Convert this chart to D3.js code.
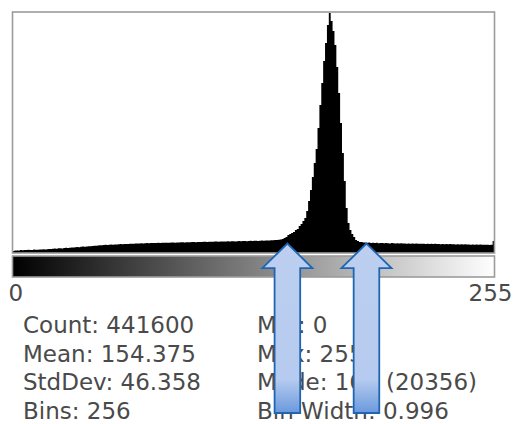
<!DOCTYPE html>
<html>
<head>
<meta charset="utf-8">
<script src="https://cdn.jsdelivr.net/npm/d3@7"></script>
<style>
  html, body { margin: 0; padding: 0; background: #fff; }
  text { font-family: "DejaVu Sans", sans-serif; fill: #4a4a4a; }
</style>
</head>
<body>
<div id="histogram"></div>
<script>
// pixel counts per grey level 0..255
const counts = [
  170, 205, 220, 215, 250, 230, 260, 245, 270, 255, 265, 290, 275, 280, 300, 295,
  310, 300, 320, 335, 330, 350, 380, 365, 395, 410, 390, 420, 440, 425, 455, 470,
  460, 480, 500, 490, 520, 545, 530, 560, 580, 565, 600, 620, 610, 640, 660, 650,
  670, 690, 680, 700, 715, 705, 730, 720, 740, 755, 745, 760, 770, 765, 780, 790,
  785, 800, 810, 805, 820, 815, 830, 840, 825, 845, 850, 840, 855, 865, 850, 870,
  860, 875, 880, 870, 885, 895, 880, 900, 890, 905, 910, 895, 915, 920, 905, 925,
  930, 915, 935, 940, 925, 945, 950, 935, 955, 960, 945, 965, 970, 955, 975, 980,
  965, 985, 990, 975, 995, 1000, 985, 1005, 1010, 995, 1015, 1020, 1005, 1025, 1030, 1015,
  1035, 1040, 1025, 1045, 1050, 1040, 1060, 1070, 1055, 1080, 1090, 1100, 1110, 1120, 1150, 1180,
  1270, 1360, 1530, 1610, 1700, 1780, 1950, 2040, 2290, 2460, 2710, 2970, 3560, 4410, 5340, 6440,
  7630, 8820, 10600, 12550, 14420, 16280, 17810, 19340, 20356, 19670, 18830, 17640, 15770, 13570, 11020, 8480,
  6110, 3820, 2540, 1950, 1610, 1360, 1100, 1020, 935, 930, 890, 900, 860, 885, 850, 860,
  845, 870, 835, 855, 840, 825, 850, 830, 815, 840, 820, 810, 830, 805, 820, 800,
  810, 795, 815, 790, 800, 785, 805, 780, 790, 775, 795, 770, 785, 765, 780, 760,
  775, 755, 770, 750, 765, 745, 760, 740, 755, 735, 750, 730, 745, 725, 740, 720,
  735, 715, 730, 710, 725, 705, 720, 700, 715, 695, 710, 690, 700, 685, 695, 1020
];

const rangeLabels = ['0', '255'];
const statsLeft = ['Count: 441600', 'Mean: 154.375', 'StdDev: 46.358', 'Bins: 256'];
const statsRight = ['Min: 0', 'Max: 255', 'Mode: 168 (20356)', 'Bin Width: 0.996'];

// grey levels the two arrows point at
const arrowBins = [146, 188];
const arrowCount = 800;

const width = 516;
const height = 424;
const plot = { left: 12.5, right: 494.5, top: 13, bottom: 253 };
const lut = { top: 256, bottom: 277 };

const svg = d3.select('#histogram').append('svg')
  .attr('width', width)
  .attr('height', height);

const defs = svg.append('defs');

const lutGrad = defs.append('linearGradient').attr('id', 'lut');
lutGrad.append('stop').attr('offset', '0%').attr('stop-color', '#000');
lutGrad.append('stop').attr('offset', '100%').attr('stop-color', '#fff');

const arrowGrad = defs.append('linearGradient')
  .attr('id', 'arrowFill')
  .attr('x1', 0).attr('y1', 0).attr('x2', 0).attr('y2', 1);
arrowGrad.append('stop').attr('offset', '0%').attr('stop-color', '#bccff0');
arrowGrad.append('stop').attr('offset', '80%').attr('stop-color', '#b6cbef');
arrowGrad.append('stop').attr('offset', '100%').attr('stop-color', '#6a99dd');

const x = d3.scaleLinear()
  .domain([0, counts.length])
  .range([plot.left, plot.right]);

const y = d3.scaleLinear()
  .domain([0, d3.max(counts)])
  .range([plot.bottom, plot.top]);

// histogram as one stepped area, so neighbouring bins leave no seams
const steps = counts.map((c, i) => [i, c]).concat([[counts.length, counts[counts.length - 1]]]);

const area = d3.area()
  .curve(d3.curveStepAfter)
  .x(d => x(d[0]))
  .y0(plot.bottom)
  .y1(d => y(d[1]));

svg.append('path')
  .datum(steps)
  .attr('d', area)
  .style('fill', '#000');

// frame round the histogram
svg.append('rect')
  .attr('x', plot.left)
  .attr('y', plot.top - 1)
  .attr('width', plot.right - plot.left)
  .attr('height', plot.bottom - plot.top + 1)
  .style('fill', 'none')
  .style('stroke', '#9c9c9c')
  .style('stroke-width', 1.6);

// LUT bar
svg.append('rect')
  .attr('x', plot.left)
  .attr('y', lut.top)
  .attr('width', plot.right - plot.left)
  .attr('height', lut.bottom - lut.top)
  .style('fill', 'url(#lut)')
  .style('stroke', '#9c9c9c')
  .style('stroke-width', 1.6);

// range labels
svg.append('text')
  .attr('x', x(0) - 4)
  .attr('y', 301)
  .style('font-size', '23px')
  .text(rangeLabels[0]);

svg.append('text')
  .attr('x', x(counts.length) + 18)
  .attr('y', 301)
  .style('text-anchor', 'end')
  .style('font-size', '23px')
  .text(rangeLabels[1]);

// statistics
const rowY = i => 333 + i * 28.7;

svg.append('g')
  .selectAll('text')
  .data(statsLeft)
  .enter()
  .append('text')
  .attr('x', 23)
  .attr('y', (d, i) => rowY(i))
  .style('font-size', '23px')
  .text(d => d);

svg.append('g')
  .selectAll('text')
  .data(statsRight)
  .enter()
  .append('text')
  .attr('x', 257)
  .attr('y', (d, i) => rowY(i))
  .style('font-size', '23px')
  .text(d => d);

// block arrows pointing at the foot of the peak
const arrowPath = (cx, tipY) => {
  const headW = 25, shaftW = 12.8, headH = 24.5, endY = 413;
  return `M${cx},${tipY} L${cx + headW},${tipY + headH} L${cx + shaftW},${tipY + headH} ` +
    `L${cx + shaftW},${endY} L${cx - shaftW},${endY} L${cx - shaftW},${tipY + headH} ` +
    `L${cx - headW},${tipY + headH} Z`;
};

svg.append('g')
  .selectAll('path')
  .data(arrowBins)
  .enter()
  .append('path')
  .attr('d', d => arrowPath(x(d), y(arrowCount)))
  .style('fill', 'url(#arrowFill)')
  .style('stroke', '#1e66b3')
  .style('stroke-width', 1.8)
  .style('stroke-linejoin', 'miter');
</script>
</body>
</html>
